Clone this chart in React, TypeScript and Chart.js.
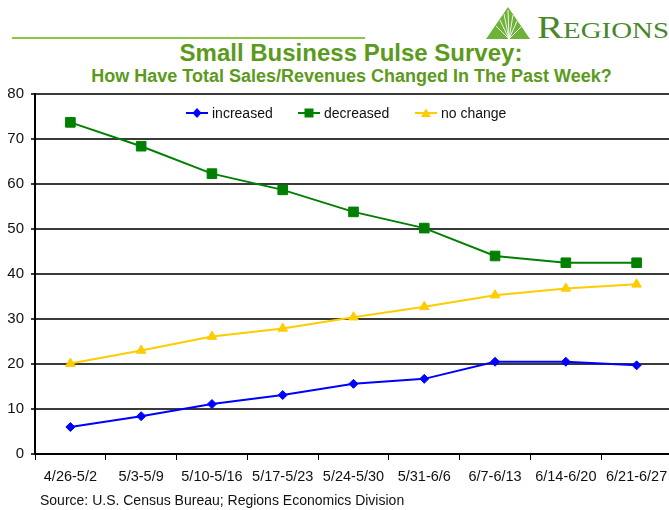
import React, { useEffect, useRef } from 'react';
import { Chart, registerables } from 'chart.js';

Chart.register(...registerables);

const categories = ['4/26-5/2', '5/3-5/9', '5/10-5/16', '5/17-5/23', '5/24-5/30', '5/31-6/6', '6/7-6/13', '6/14-6/20', '6/21-6/27'];
const increased = [6.0, 8.4, 11.1, 13.1, 15.6, 16.7, 20.5, 20.5, 19.7];
const decreased = [73.7, 68.4, 62.3, 58.7, 53.8, 50.2, 44.0, 42.5, 42.5];
const noChange = [20.1, 23.0, 26.1, 27.9, 30.4, 32.7, 35.3, 36.8, 37.7];
const yMin = 0;
const yMax = 80;
const yStep = 10;

const FONT = '"Liberation Sans", Arial, Helvetica, sans-serif';
const BLUE = '#0000ff';
const GREEN = '#008000';
const YELLOW = '#ffcc00';
const TITLE_GREEN = '#5b9a1b';

function LegendItem({ left, label, marker, color }: { left: number; label: string; marker: string; color: string }) {
  let shape: React.ReactNode = null;
  if (marker === 'diamond') shape = <polygon points="11,2 15.5,7 11,12 6.5,7" fill={color} />;
  if (marker === 'square') shape = <rect x={6.5} y={2.5} width={9} height={9} fill={color} />;
  if (marker === 'triangle') shape = <polygon points="11,2.5 16,11 6,11" fill={color} />;
  return (
    <div style={{ position: 'absolute', left, top: 105, height: 16, display: 'flex', alignItems: 'center', whiteSpace: 'nowrap' }}>
      <svg width={22} height={14} style={{ display: 'block' }}>
        <line x1={0} y1={7} x2={22} y2={7} stroke={color} strokeWidth={2} />
        {shape}
      </svg>
      <span style={{ marginLeft: 4, fontFamily: FONT, fontSize: 14, color: '#111', lineHeight: '16px' }}>{label}</span>
    </div>
  );
}

export default function App() {
  const ref = useRef<HTMLCanvasElement>(null);

  useEffect(() => {
    const canvas = ref.current;
    if (!canvas) return;
    const chart = new Chart(canvas, {
      type: 'line',
      data: {
        labels: categories,
        datasets: [
          {
            label: 'increased',
            data: increased,
            borderColor: BLUE,
            backgroundColor: BLUE,
            pointBackgroundColor: BLUE,
            pointBorderColor: BLUE,
            pointStyle: 'rectRot',
            pointRadius: 4.5,
            pointBorderWidth: 1,
            borderWidth: 2,
            tension: 0,
          },
          {
            label: 'decreased',
            data: decreased,
            borderColor: GREEN,
            backgroundColor: GREEN,
            pointBackgroundColor: GREEN,
            pointBorderColor: GREEN,
            pointStyle: 'rect',
            pointRadius: 6.8,
            pointBorderWidth: 1,
            borderWidth: 2,
            tension: 0,
          },
          {
            label: 'no change',
            data: noChange,
            borderColor: YELLOW,
            backgroundColor: YELLOW,
            pointBackgroundColor: YELLOW,
            pointBorderColor: YELLOW,
            pointStyle: 'triangle',
            pointRadius: 5.5,
            pointBorderWidth: 1,
            borderWidth: 2,
            tension: 0,
          },
        ],
      },
      options: {
        animation: false,
        responsive: false,
        devicePixelRatio: 1,
        layout: { padding: { top: 13, right: 8, bottom: 0, left: 0 } },
        plugins: {
          legend: { display: false },
          tooltip: { enabled: false },
          title: { display: false },
        },
        scales: {
          x: {
            type: 'category',
            offset: true,
            grid: {
              offset: true,
              drawOnChartArea: false,
              drawTicks: true,
              tickLength: 6,
              color: '#000',
              lineWidth: 1,
            },
            border: { display: true, color: '#000', width: 2 },
            ticks: {
              font: { family: FONT, size: 14.5 },
              color: '#111',
              padding: 8,
              maxRotation: 0,
              autoSkip: false,
            },
            afterFit: (s: any) => {
              s.height = 40;
              s.paddingLeft = 0;
              s.paddingRight = 0;
            },
          },
          y: {
            min: yMin,
            max: yMax,
            ticks: {
              stepSize: yStep,
              font: { family: FONT, size: 15 },
              color: '#111',
              padding: 7,
            },
            grid: {
              color: '#3a3a3a',
              lineWidth: 2,
              drawTicks: true,
              tickLength: 4,
            },
            border: { display: true, color: '#000', width: 2 },
            afterFit: (s: any) => {
              s.width = 35;
              s.paddingTop = 0;
              s.paddingBottom = 0;
            },
          },
        },
      },
    });
    return () => chart.destroy();
  }, []);

  return (
    <div style={{ position: 'absolute', left: 0, top: 0, width: 669, height: 510, overflow: 'hidden', background: '#fff' }}>
      {/* logo */}
      <svg width={199} height={50} style={{ position: 'absolute', left: 470, top: 0 }}>
        <polygon points="16,39 60,39 38,7" fill="#6fb23a" />
        <g stroke="#ffffff" strokeWidth={0.9}>
          <line x1={39} y1={39} x2={26} y2={26} />
          <line x1={39} y1={39} x2={30} y2={20} />
          <line x1={39} y1={39} x2={34} y2={14} />
          <line x1={39} y1={39} x2={38} y2={10} />
          <line x1={39} y1={39} x2={43} y2={15} />
          <line x1={39} y1={39} x2={47} y2={21} />
          <line x1={39} y1={39} x2={51} y2={27} />
        </g>
        <text x={67} y={38} fill="#4a872a" fontFamily='"Liberation Serif", "DejaVu Serif", serif' textLength={132} lengthAdjust="spacingAndGlyphs">
          <tspan fontSize={31}>R</tspan>
          <tspan fontSize={23}>EGIONS</tspan>
        </text>
      </svg>
      {/* rule */}
      <div style={{ position: 'absolute', left: 12, top: 37, width: 353, height: 2, background: '#8dc63f' }} />
      {/* titles */}
      <div style={{ position: 'absolute', left: 0, top: 41, width: 702, textAlign: 'center', fontFamily: FONT, fontWeight: 'bold', fontSize: 24, lineHeight: '24px', color: TITLE_GREEN, whiteSpace: 'nowrap' }}>
        Small Business Pulse Survey:
      </div>
      <div style={{ position: 'absolute', left: 0, top: 67, width: 703, textAlign: 'center', fontFamily: FONT, fontWeight: 'bold', fontSize: 18, lineHeight: '18px', color: TITLE_GREEN, whiteSpace: 'nowrap' }}>
        How Have Total Sales/Revenues Changed In The Past Week?
      </div>
      {/* chart */}
      <canvas ref={ref} width={680} height={413} style={{ position: 'absolute', left: 0, top: 81, width: 680, height: 413 }} />
      {/* legend */}
      <LegendItem left={186} label="increased" marker="diamond" color={BLUE} />
      <LegendItem left={298} label="decreased" marker="square" color={GREEN} />
      <LegendItem left={415} label="no change" marker="triangle" color={YELLOW} />
      {/* source */}
      <div style={{ position: 'absolute', left: 40, top: 493, fontFamily: FONT, fontSize: 14, lineHeight: '14px', color: '#111', whiteSpace: 'nowrap' }}>
        Source: U.S. Census Bureau; Regions Economics Division
      </div>
    </div>
  );
}
